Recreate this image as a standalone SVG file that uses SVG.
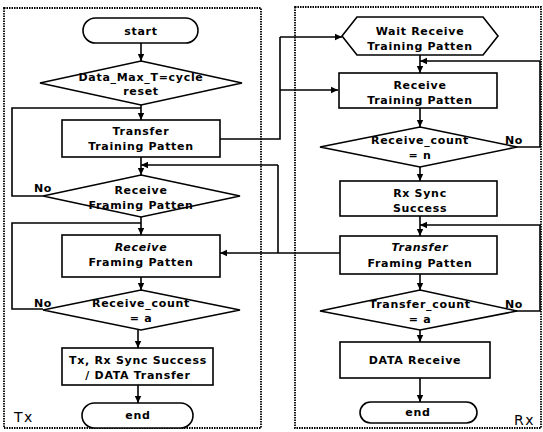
<svg xmlns="http://www.w3.org/2000/svg" width="543" height="432" viewBox="0 0 543 432">
<style>
.shape{fill:#fff;stroke:#000;stroke-width:1.6}
.line{fill:none;stroke:#000;stroke-width:1.6}
.arrow{fill:none;stroke:#000;stroke-width:1.6;marker-end:url(#ah)}
.panel{fill:none;stroke:#000;stroke-width:1.8;stroke-dasharray:1.5 1}
.t{font-family:"DejaVu Sans","Liberation Sans",sans-serif;font-weight:bold;font-size:11px;letter-spacing:0.7px;text-anchor:middle;fill:#000}
.it{font-style:italic}
.lab{font-family:"DejaVu Sans","Liberation Sans",sans-serif;font-size:14px;letter-spacing:1.5px;fill:#000}
</style>
<defs>
<marker id="ah" markerWidth="8" markerHeight="8" refX="7" refY="4" orient="auto" markerUnits="userSpaceOnUse">
<path d="M0,0.8 L7,4 L0,7.2 Z" fill="#000"/>
</marker>
</defs>
<rect class="panel" x="4" y="8" width="257" height="420"/>
<rect class="panel" x="295" y="7" width="246" height="421"/>
<text class="lab" x="14" y="422">Tx</text>
<text class="lab" x="514" y="425">Rx</text>
<g id="connectors">
<path class="arrow" d="M141,43 V61"/>
<path class="arrow" d="M141,105 V120"/>
<path class="line" d="M43,196 H12 V108 H141"/>
<path class="arrow" d="M141,157 V175"/>
<path class="arrow" d="M141,217 V235"/>
<path class="line" d="M43,309 H12 V223 H141"/>
<path class="arrow" d="M141,277 V290"/>
<path class="arrow" d="M138,330 V348"/>
<path class="arrow" d="M138,385 V403"/>
<path class="line" d="M220,139 H280 V37"/>
<path class="arrow" d="M280,37 H342"/>
<path class="arrow" d="M280,90 H338"/>
<path class="arrow" d="M340,253 H220"/>
<path class="line" d="M278,253 V165"/>
<path class="arrow" d="M278,165 H141"/>
<path class="arrow" d="M420,55 V73"/>
<path class="arrow" d="M515,147 H540 V61 H420"/>
<path class="arrow" d="M420,108 V127"/>
<path class="arrow" d="M420,167 V181"/>
<path class="arrow" d="M420,216 V236"/>
<path class="arrow" d="M515,311 H540 V225 H420"/>
<path class="arrow" d="M420,274 V290"/>
<path class="arrow" d="M420,330 V342"/>
<path class="arrow" d="M420,378 V402"/>
</g>
<g id="tx_start">
<rect class="shape" x="83" y="18" width="115" height="25" rx="12.5"/>
<text class="t" x="141" y="35">start</text>
</g>
<g id="tx_reset">
<path class="shape" d="M141,61 L242,83 L141,105 L40,83 Z"/>
<text class="t" x="141" y="81">Data_Max_T=cycle</text>
<text class="t" x="141" y="95">reset</text>
</g>
<g id="tx_transfer_training">
<rect class="shape" x="62" y="120" width="158" height="37"/>
<text class="t" x="141" y="135">Transfer</text>
<text class="t" x="141" y="150">Training Patten</text>
</g>
<g id="tx_receive_framing_dec">
<path class="shape" d="M141,175 L240,196 L141,217 L43,196 Z"/>
<text class="t" x="141" y="194">Receive</text>
<text class="t" x="141" y="209">Framing Patten</text>
<text class="t" x="43" y="192">No</text>
</g>
<g id="tx_receive_framing">
<rect class="shape" x="62" y="235" width="158" height="42"/>
<text class="t it" x="141" y="251">Receive</text>
<text class="t" x="141" y="266">Framing Patten</text>
</g>
<g id="tx_receive_count">
<path class="shape" d="M141,290 L240,310 L141,330 L43,310 Z"/>
<text class="t" x="141" y="307">Receive_count</text>
<text class="t" x="141" y="322">= a</text>
<text class="t" x="43" y="307">No</text>
</g>
<g id="tx_sync">
<rect class="shape" x="62" y="348" width="151" height="37"/>
<text class="t" x="138" y="364">Tx, Rx Sync Success</text>
<text class="t" x="138" y="379">/ DATA Transfer</text>
</g>
<g id="tx_end">
<rect class="shape" x="82" y="403" width="111" height="25" rx="12.5"/>
<text class="t" x="138" y="419">end</text>
</g>
<g id="rx_wait">
<path class="shape" d="M342,36 L357,17 L483,17 L498,36 L483,55 L357,55 Z"/>
<text class="t" x="420" y="35">Wait Receive</text>
<text class="t" x="420" y="50">Training Patten</text>
</g>
<g id="rx_receive_training">
<rect class="shape" x="339" y="73" width="158" height="35"/>
<text class="t" x="420" y="89">Receive</text>
<text class="t" x="420" y="104">Training Patten</text>
</g>
<g id="rx_receive_count">
<path class="shape" d="M420,127 L517,147 L420,167 L320,147 Z"/>
<text class="t" x="420" y="144">Receive_count</text>
<text class="t" x="420" y="159">= n</text>
<text class="t" x="514" y="144">No</text>
</g>
<g id="rx_sync">
<rect class="shape" x="340" y="181" width="157" height="35"/>
<text class="t" x="420" y="197">Rx Sync</text>
<text class="t" x="420" y="212">Success</text>
</g>
<g id="rx_transfer_framing">
<rect class="shape" x="340" y="236" width="157" height="38"/>
<text class="t it" x="420" y="251">Transfer</text>
<text class="t" x="420" y="267">Framing Patten</text>
</g>
<g id="rx_transfer_count">
<path class="shape" d="M420,290 L517,311 L420,330 L320,311 Z"/>
<text class="t" x="420" y="308">Transfer_count</text>
<text class="t" x="420" y="323">= a</text>
<text class="t" x="514" y="308">No</text>
</g>
<g id="rx_data_receive">
<rect class="shape" x="340" y="342" width="150" height="36"/>
<text class="t" x="415" y="364">DATA Receive</text>
</g>
<g id="rx_end">
<rect class="shape" x="360" y="402" width="117" height="21" rx="10.5"/>
<text class="t" x="418" y="416">end</text>
</g>
</svg>
